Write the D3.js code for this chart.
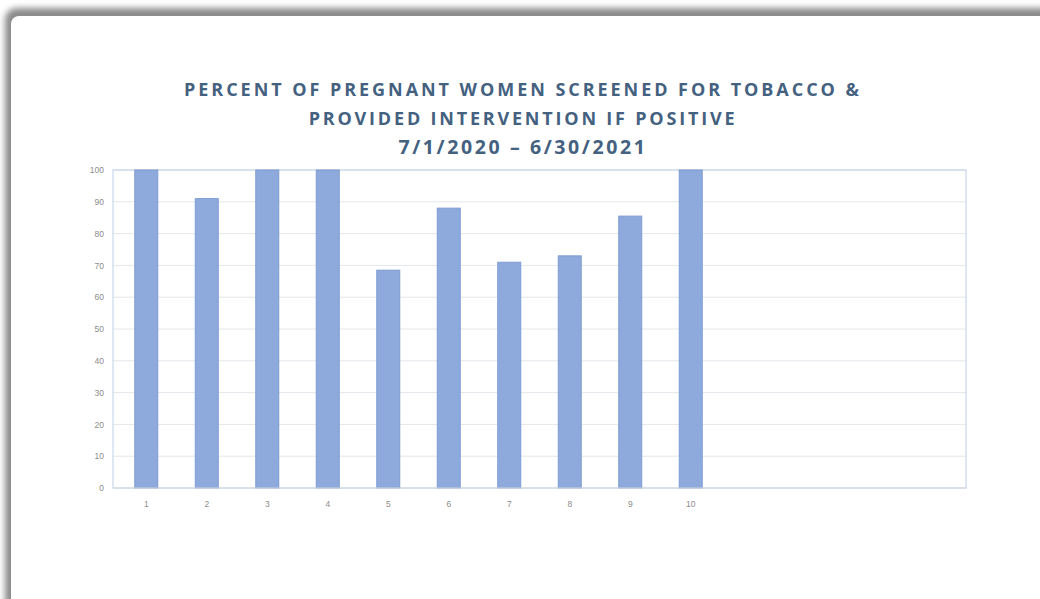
<!DOCTYPE html>
<html><head><meta charset="utf-8">
<script src="https://cdn.jsdelivr.net/npm/d3@7"></script>
<style>body{margin:0;background:#fff;}svg{display:block;}</style>
</head><body>
<svg id="c" width="1040" height="599"></svg>
<script>
const categories = ["1","2","3","4","5","6","7","8","9","10","","","",""];
const values = [100, 91, 100, 100, 68.5, 88, 71, 73, 85.5, 100, null, null, null, null];
const yTicks = [0,10,20,30,40,50,60,70,80,90,100];
const titleLines = ["PERCENT OF PREGNANT WOMEN SCREENED FOR TOBACCO &", "PROVIDED INTERVENTION IF POSITIVE", "7/1/2020 \u2013 6/30/2021"];

const svg = d3.select("#c");
const defs = svg.append("defs");
const f = defs.append("filter").attr("id","sh").attr("x","-5%").attr("y","-5%").attr("width","110%").attr("height","110%");
f.append("feGaussianBlur").attr("stdDeviation", 3);

// page shadow and sheet
svg.append("rect").attr("x",5).attr("y",8).attr("width",1100).attr("height",700).attr("rx",12)
  .attr("fill","#8a8a8a").attr("filter","url(#sh)");
svg.append("rect").attr("x",11).attr("y",16).attr("width",1100).attr("height",700).attr("rx",8)
  .attr("fill","#ffffff");

const m = {l:113, t:170, r:966, b:488};
const x = d3.scaleBand().domain(d3.range(categories.length)).range([m.l, m.r]).paddingInner(0.62).paddingOuter(0.36);
const y = d3.scaleLinear().domain([0,100]).range([m.b, m.t]);

// gridlines
svg.append("g").selectAll("line").data(yTicks.filter(d=>d>0)).join("line")
  .attr("x1", m.l).attr("x2", m.r).attr("y1", d=>y(d)).attr("y2", d=>y(d))
  .attr("stroke","#e3e6ea").attr("stroke-width",1);

// plot border
svg.append("rect").attr("x",m.l).attr("y",m.t).attr("width",m.r-m.l).attr("height",m.b-m.t)
  .attr("fill","none").attr("stroke","#c9d8ec").attr("stroke-width",1.2);

// bars
svg.append("g").selectAll("rect").data(values.map((v,i)=>({v,i})).filter(d=>d.v!=null)).join("rect")
  .attr("x", d=>x(d.i)).attr("width", x.bandwidth())
  .attr("y", d=>y(d.v)).attr("height", d=>y(0)-y(d.v))
  .attr("fill","#8eaadc").attr("stroke","#7e9bd3").attr("stroke-width",1);

// axis baseline
svg.append("line").attr("x1",m.l).attr("x2",m.r).attr("y1",m.b).attr("y2",m.b).attr("stroke","#d6d9de").attr("stroke-width",1.2);

// y axis
const ya = svg.append("g").attr("transform",`translate(${m.l},0)`)
  .call(d3.axisLeft(y).tickValues(yTicks).tickSize(0).tickPadding(9));
ya.select(".domain").remove();
ya.selectAll("text").attr("font-family","Liberation Sans, Arial, sans-serif").attr("font-size",8.5).attr("fill","#8c8c8c");

// x axis
const xa = svg.append("g").attr("transform",`translate(0,${m.b})`)
  .call(d3.axisBottom(x).tickFormat(i=>categories[i]).tickSize(0).tickPadding(13));
xa.select(".domain").remove();
xa.selectAll("text").attr("font-family","Liberation Sans, Arial, sans-serif").attr("font-size",8.5).attr("fill","#8c8c8c");

// title
const ty = [96, 124.5, 154];
const tfs = [18, 18, 19.5];
const tls = [2.95, 2.8, 2.6];
svg.append("g").selectAll("text").data(titleLines).join("text")
  .attr("x", 523).attr("y", (d,i)=>ty[i]).attr("text-anchor","middle")
  .attr("font-family","Open Sans, sans-serif").attr("font-weight","bold")
  .attr("font-size",(d,i)=>tfs[i]).attr("letter-spacing",(d,i)=>tls[i])
  .attr("fill","#44617f").text(d=>d);
</script>
</body></html>
